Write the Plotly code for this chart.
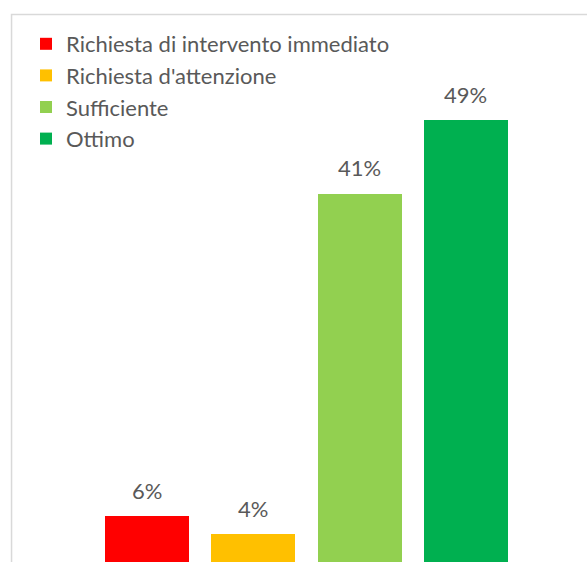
import plotly.graph_objects as go

# data
categories = ["Richiesta di intervento immediato", "Richiesta d'attenzione",
              "Sufficiente", "Ottimo"]
values = [0.06, 0.04, 0.41, 0.49]
bar_colors = ["#FF0000", "#FFC000", "#92D050", "#00B050"]

FONT = "Lato"
TXT = "#595959"

W, H = 587, 562

fig = go.Figure()

for cat, val, col in zip(categories, values, bar_colors):
    fig.add_trace(go.Bar(x=[cat], y=[val], name=cat, marker_color=col,
                         marker_line_width=0, legendgroup=cat))

# value labels above the bars
for cat, val in zip(categories, values):
    fig.add_annotation(x=cat, y=val, text=f"{val:.0%}", showarrow=False,
                       yanchor="middle", yshift=26,
                       font=dict(family=FONT, size=22, color=TXT))

# light grey chart border (cut at the right and bottom edges)
fig.add_shape(type="rect", xref="paper", yref="paper",
              x0=-0.194, x1=1.2, y0=-0.1, y1=1.0101,
              line=dict(color="#D9D9D9", width=1.5), layer="below")

fig.update_layout(
    width=W, height=H,
    margin=dict(l=94, r=68, t=20, b=0, autoexpand=False),
    barmode="stack", bargap=0.21,
    plot_bgcolor="white", paper_bgcolor="white",
    font=dict(family=FONT, size=22, color=TXT),
    showlegend=True,
    legend=dict(xref="container", yref="container",
                x=26 / W, y=1 - 23 / H, xanchor="left", yanchor="top",
                bgcolor="rgba(0,0,0,0)", borderwidth=0,
                traceorder="normal", tracegroupgap=0,
                font=dict(family=FONT, size=22, color=TXT)),
)

fig.update_xaxes(visible=False, categoryorder="array", categoryarray=categories)
fig.update_yaxes(visible=False, range=[0.0101, 0.599])

# drop the default body margin so the figure fills the window
fig.write_html("out.html", config={"displayModeBar": False},
               post_script="document.body.style.margin='0';"
                           "document.body.style.overflow='hidden';")
